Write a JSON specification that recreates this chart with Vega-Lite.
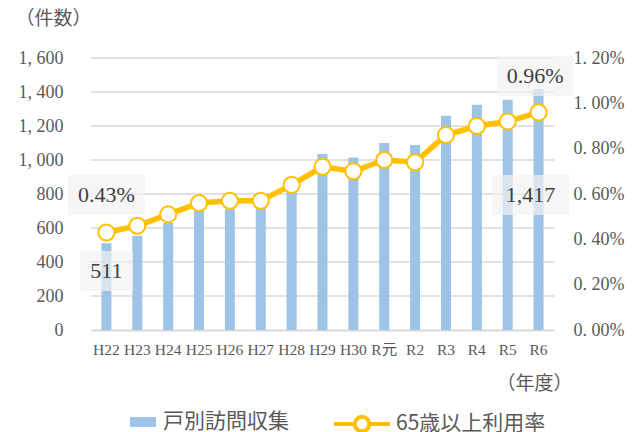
{
  "$schema": "https://vega.github.io/schema/vega-lite/v6.json",
  "width": 463,
  "height": 272,
  "autosize": {"type": "none"},
  "padding": {"left": 91, "top": 58, "right": 81, "bottom": 102},
  "background": "white",
  "config": {
    "view": {"stroke": null},
    "font": "Liberation Serif, Noto Sans CJK JP",
    "axis": {"labelColor": "#595959", "titleColor": "#595959", "titleFontWeight": "normal"},
    "axisLeft": {
      "labelExpr": "replace(format(datum.value, ','), ',', ', ')",
      "labelOverlap": false, "tickCount": 8, "grid": false,
      "labelFontSize": 18, "labelPadding": 28, "ticks": false, "domain": false,
      "titleFont": "Noto Sans CJK JP", "titleFontSize": 19,
      "titleAngle": 0, "titleAlign": "left", "titleBaseline": "middle",
      "titleX": -76, "titleY": -40
    },
    "axisRight": {
      "labelExpr": "replace(format(datum.value, '.2%'), '.', '. ')",
      "labelOverlap": false, "tickCount": 6, "grid": false,
      "labelFontSize": 18, "labelPadding": 19, "ticks": false, "domain": false
    },
    "axisBottom": {
      "labelAngle": 0, "labelFontSize": 15.5, "labelPadding": 12, "ticks": false,
      "domainColor": "#d9d9d9", "domainWidth": 2, "labelOverlap": false, "grid": false,
      "titleFont": "Noto Sans CJK JP", "titleFontSize": 19,
      "titleAngle": 0, "titleAlign": "left", "titleBaseline": "middle",
      "titleX": 405, "titleY": 53
    },
    "legend": {"labelColor": "#595959", "labelFont": "Noto Sans CJK JP"}
  },
  "datasets": {
    "main": [
      {"year": "H22", "count": 511, "rate": 0.0043},
      {"year": "H23", "count": 555, "rate": 0.0046},
      {"year": "H24", "count": 630, "rate": 0.0051},
      {"year": "H25", "count": 700, "rate": 0.0056},
      {"year": "H26", "count": 710, "rate": 0.0057},
      {"year": "H27", "count": 715, "rate": 0.0057},
      {"year": "H28", "count": 830, "rate": 0.0064},
      {"year": "H29", "count": 1035, "rate": 0.0072},
      {"year": "H30", "count": 1015, "rate": 0.0070},
      {"year": "R元", "count": 1100, "rate": 0.0075},
      {"year": "R2", "count": 1088, "rate": 0.0074},
      {"year": "R3", "count": 1260, "rate": 0.0086},
      {"year": "R4", "count": 1325, "rate": 0.0090},
      {"year": "R5", "count": 1355, "rate": 0.0092},
      {"year": "R6", "count": 1417, "rate": 0.0096}
    ],
    "gridvals": [
      {"count": 200}, {"count": 400}, {"count": 600}, {"count": 800},
      {"count": 1000}, {"count": 1200}, {"count": 1400}, {"count": 1600}
    ]
  },
  "layer": [
    {
      "layer": [
        {
          "data": {"name": "gridvals"},
          "mark": {"type": "rule", "color": "#d9d9d9", "strokeWidth": 1.5},
          "encoding": {
            "y": {
              "field": "count", "type": "quantitative", "title": "（件数）",
              "scale": {"domain": [0, 1600]},
              "axis": {"orient": "left"}
            }
          }
        },
        {
          "data": {"name": "main"},
          "mark": {"type": "bar", "width": 10},
          "encoding": {
            "x": {
              "field": "year", "type": "nominal", "sort": null, "title": "（年度）",
              "scale": {"paddingInner": 0, "paddingOuter": 0},
              "axis": {"orient": "bottom"}
            },
            "y": {
              "field": "count", "type": "quantitative", "title": "（件数）",
              "scale": {"domain": [0, 1600]},
              "axis": {"orient": "left"}
            },
            "color": {
              "datum": "戸別訪問収集",
              "scale": {"range": ["#9dc3e6"]},
              "legend": {
                "orient": "none", "legendX": 39, "legendY": 351, "title": null,
                "symbolType": "M-1,-0.38H1V0.38H-1Z", "symbolSize": 676,
                "symbolStrokeWidth": 0, "labelFontSize": 21, "labelOffset": 7
              }
            }
          }
        }
      ]
    },
    {
      "data": {"name": "main"},
      "encoding": {
        "x": {
          "field": "year", "type": "nominal", "sort": null, "title": "（年度）",
          "scale": {"paddingInner": 0, "paddingOuter": 0},
          "axis": {"orient": "bottom"}
        }
      },
      "layer": [
        {
          "mark": {"type": "line", "strokeWidth": 5.5},
          "encoding": {
            "y": {
              "field": "rate", "type": "quantitative", "title": null,
              "scale": {"domain": [0, 0.012]},
              "axis": {"orient": "right"}
            },
            "stroke": {
              "datum": "65歳以上利用率",
              "scale": {"range": ["#ffc000"]},
              "legend": {
                "orient": "none", "legendX": 241, "legendY": 336, "title": null,
                "symbolType": "M-1,0H-0.26M0.26,0H1M0.26,0A0.26,0.26 0 1 1 -0.26,0A0.26,0.26 0 1 1 0.26,0Z",
                "symbolSize": 3136, "symbolStrokeWidth": 4, "symbolFillColor": "#ffffff",
                "labelFontSize": 21, "labelOffset": 4
              }
            }
          }
        },
        {
          "mark": {"type": "point", "filled": true, "fill": "#ffffff", "stroke": "#ffc000", "strokeWidth": 2, "size": 260, "opacity": 1},
          "encoding": {
            "y": {"field": "rate", "type": "quantitative", "title": null, "scale": {"domain": [0, 0.012]}, "axis": {"orient": "right"}}
          }
        },
        {
          "transform": [{"filter": "datum.year === 'H22'"}],
          "mark": {"type": "bar", "width": 77, "yOffset": -57.5, "y2Offset": -17.5, "color": "#f2f2f2", "fillOpacity": 0.7},
          "encoding": {
            "y": {"field": "rate", "type": "quantitative", "title": null, "scale": {"domain": [0, 0.012]}, "axis": {"orient": "right"}},
            "y2": {"field": "rate"}
          }
        },
        {
          "transform": [{"filter": "datum.year === 'H22'"}],
          "mark": {"type": "text", "fontSize": 22, "yOffset": -37.5, "baseline": "middle", "align": "center", "color": "#404040"},
          "encoding": {
            "y": {"field": "rate", "type": "quantitative", "title": null, "scale": {"domain": [0, 0.012]}, "axis": {"orient": "right"}},
            "text": {"field": "rate", "format": ".2%"}
          }
        },
        {
          "transform": [{"filter": "datum.year === 'H22'"}],
          "mark": {"type": "bar", "width": 53, "yOffset": 18.5, "y2Offset": 58.5, "color": "#f2f2f2", "fillOpacity": 0.7},
          "encoding": {
            "y": {"field": "rate", "type": "quantitative", "title": null, "scale": {"domain": [0, 0.012]}, "axis": {"orient": "right"}},
            "y2": {"field": "rate"}
          }
        },
        {
          "transform": [{"filter": "datum.year === 'H22'"}],
          "mark": {"type": "text", "fontSize": 22, "yOffset": 38.5, "baseline": "middle", "align": "center", "color": "#404040"},
          "encoding": {
            "y": {"field": "rate", "type": "quantitative", "title": null, "scale": {"domain": [0, 0.012]}, "axis": {"orient": "right"}},
            "text": {"field": "count", "format": ","}
          }
        },
        {
          "transform": [{"filter": "datum.year === 'R6'"}],
          "mark": {"type": "bar", "width": 76, "xOffset": -3.5, "yOffset": -56.5, "y2Offset": -16.5, "color": "#f2f2f2", "fillOpacity": 0.7},
          "encoding": {
            "y": {"field": "rate", "type": "quantitative", "title": null, "scale": {"domain": [0, 0.012]}, "axis": {"orient": "right"}},
            "y2": {"field": "rate"}
          }
        },
        {
          "transform": [{"filter": "datum.year === 'R6'"}],
          "mark": {"type": "text", "fontSize": 22, "xOffset": -3.5, "yOffset": -36.5, "baseline": "middle", "align": "center", "color": "#404040"},
          "encoding": {
            "y": {"field": "rate", "type": "quantitative", "title": null, "scale": {"domain": [0, 0.012]}, "axis": {"orient": "right"}},
            "text": {"field": "rate", "format": ".2%"}
          }
        },
        {
          "transform": [{"filter": "datum.year === 'R6'"}],
          "mark": {"type": "bar", "width": 77, "xOffset": -8, "yOffset": 62.5, "y2Offset": 102.5, "color": "#f2f2f2", "fillOpacity": 0.7},
          "encoding": {
            "y": {"field": "rate", "type": "quantitative", "title": null, "scale": {"domain": [0, 0.012]}, "axis": {"orient": "right"}},
            "y2": {"field": "rate"}
          }
        },
        {
          "transform": [{"filter": "datum.year === 'R6'"}],
          "mark": {"type": "text", "fontSize": 22, "xOffset": -8, "yOffset": 82.5, "baseline": "middle", "align": "center", "color": "#404040"},
          "encoding": {
            "y": {"field": "rate", "type": "quantitative", "title": null, "scale": {"domain": [0, 0.012]}, "axis": {"orient": "right"}},
            "text": {"field": "count", "format": ","}
          }
        }
      ]
    }
  ],
  "resolve": {"scale": {"y": "independent"}, "axis": {"y": "independent"}}
}
